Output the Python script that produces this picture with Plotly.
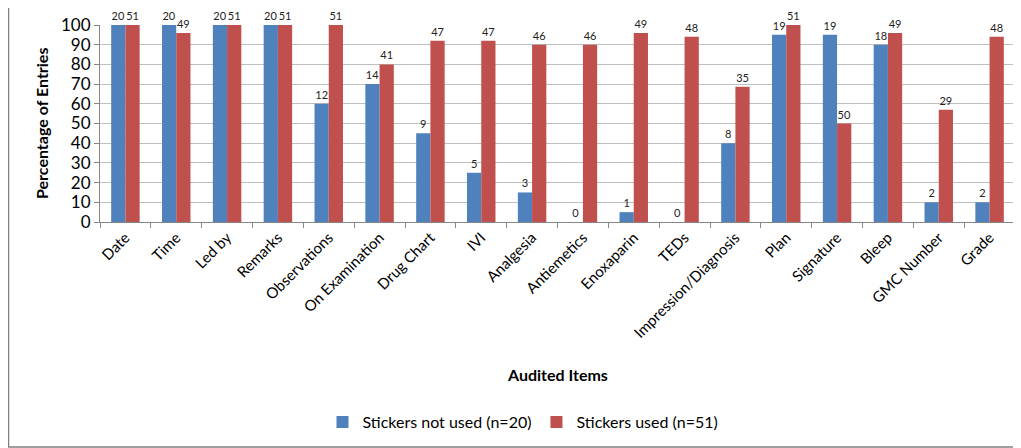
import plotly.graph_objects as go

categories = ["Date", "Time", "Led by", "Remarks", "Observations", "On Examination",
              "Drug Chart", "IVI", "Analgesia", "Antiemetics", "Enoxaparin", "TEDs",
              "Impression/Diagnosis", "Plan", "Signature", "Bleep", "GMC Number", "Grade"]

not_used_pct = [100, 100, 100, 100, 60, 70, 45, 25, 15, 0, 5, 0, 40, 95, 95, 90, 10, 10]
not_used_count = [20, 20, 20, 20, 12, 14, 9, 5, 3, 0, 1, 0, 8, 19, 19, 18, 2, 2]

used_pct = [100, 96, 100, 100, 100, 80, 92, 92, 90, 90, 96, 94, 68.6, 100, 50, 96, 57, 94]
used_count = [51, 49, 51, 51, 51, 41, 47, 47, 46, 46, 49, 48, 35, 51, 50, 49, 29, 48]

y_ticks = list(range(0, 101, 10))

FONT = "Lato"
OFF = 8  # page body margin
fig = go.Figure()
fig.add_trace(go.Bar(
    x=categories, y=not_used_pct, name="Stickers not used (n=20)",
    marker=dict(color="#4F81BD", line=dict(width=0)),
    text=[str(v) for v in not_used_count], textposition="outside",
    textfont=dict(family=FONT, size=11, color="#222"), cliponaxis=False,
))
fig.add_trace(go.Bar(
    x=categories, y=used_pct, name="Stickers used (n=51)",
    marker=dict(color="#C0504D", line=dict(width=0)),
    text=[str(v) for v in used_count], textposition="outside",
    textfont=dict(family=FONT, size=11, color="#222"), cliponaxis=False,
))

# reference pixel coordinates (page), converted to figure coordinates
L, R, T, B = 100 - OFF, 1015 - OFF, 25 - OFF, 222 - OFF
W, H = 1021 - OFF, 448 - OFF
pw, ph = R - L, B - T
fig.update_layout(
    width=W, height=H,
    margin=dict(l=L, r=W - R, t=T, b=H - B, pad=0, autoexpand=False),
    paper_bgcolor="white", plot_bgcolor="white",
    barmode="group", bargap=0.44, bargroupgap=0,
    font=dict(family=FONT, color="#000"),
    showlegend=True,
    legend=dict(orientation="h", x=(523 - OFF - L) / pw, xanchor="center",
                y=-(422 - OFF - B) / ph, yanchor="middle",
                font=dict(family=FONT, size=16, color="#000"),
                traceorder="normal", itemwidth=30),
)
fig.update_xaxes(
    tickangle=-45, tickson="boundaries", ticks="outside", ticklen=5, tickcolor="#868686",
    showline=True, linecolor="#868686", linewidth=1,
    tickfont=dict(family=FONT, size=15, color="#000"),
    automargin=False, showgrid=False,
)
fig.update_yaxes(
    range=[0, 100], tickvals=y_ticks, ticks="outside", ticklen=5, tickcolor="#868686",
    showline=True, linecolor="#868686", linewidth=1,
    gridcolor="#BFBFBF", gridwidth=1,
    tickfont=dict(family=FONT, size=17, color="#000"),
    automargin=False, zeroline=False,
)
# axis titles
fig.add_annotation(text="<b>Audited Items</b>", xref="paper", yref="paper",
                   x=0.5, y=-(374 - OFF - B) / ph, xanchor="center", yanchor="middle",
                   showarrow=False, font=dict(family=FONT, size=16, color="#000"))
fig.add_annotation(text="<b>Percentage of Entries</b>", xref="paper", yref="paper",
                   x=(41 - OFF - L) / pw, y=(B - (124 - OFF)) / ph, xanchor="center",
                   yanchor="middle", textangle=-90, showarrow=False,
                   font=dict(family=FONT, size=16, color="#000"))
# outer border (right edge falls outside the visible page, as in the reference)
fig.add_shape(type="rect", xref="paper", yref="paper",
              x0=(8.5 - OFF - L) / pw, x1=(1030 - OFF - L) / pw,
              y0=(B - (447 - OFF)) / ph, y1=(B - (6 - OFF)) / ph,
              line=dict(color="#808080", width=1.5), fillcolor="rgba(0,0,0,0)", layer="below")

fig.write_html("out.html")
